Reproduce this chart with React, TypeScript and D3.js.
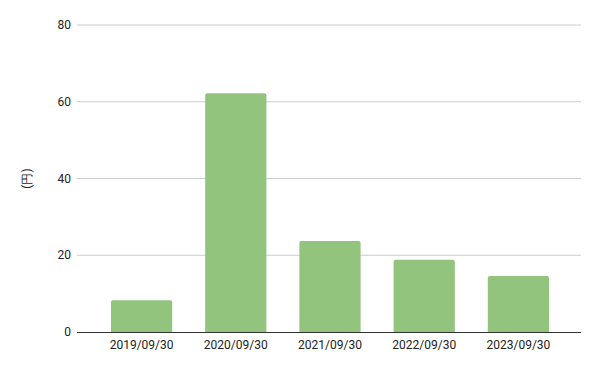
import React from "react";
import * as d3 from "d3";

const categories = ["2019/09/30", "2020/09/30", "2021/09/30", "2022/09/30", "2023/09/30"];
const values = [8.3, 62.2, 23.7, 18.8, 14.6];
const yTicks = [0, 20, 40, 60, 80];
const yLabel = "(円)";

const W = 600;
const H = 371;
const left = 77;
const right = 581;
const top = 25;
const bottom = 332;

export default function App() {
  const x = d3.scaleBand<string>().domain(categories).range([left + 1, right + 1]).paddingInner(0.35).paddingOuter(0.35);
  const y = d3.scaleLinear().domain([0, 80]).range([bottom, top]);
  const r = 2;
  const barPath = (x0: number, w: number, y0: number, y1: number) => {
    const p = d3.path();
    p.moveTo(x0, y1);
    p.lineTo(x0, y0 + r);
    p.quadraticCurveTo(x0, y0, x0 + r, y0);
    p.lineTo(x0 + w - r, y0);
    p.quadraticCurveTo(x0 + w, y0, x0 + w, y0 + r);
    p.lineTo(x0 + w, y1);
    p.closePath();
    return p.toString();
  };
  return (
    <svg width={W} height={H} style={{ position: "absolute", left: 0, top: 0 }} fontFamily="Roboto, Arial, sans-serif">
      <rect width={W} height={H} fill="#fff" />
      {yTicks.map((t) => (
        <g key={t}>
          {t !== 0 && <line x1={left} x2={right} y1={y(t)} y2={y(t)} stroke="#cccccc" strokeWidth={1} />}
          <text x={71} y={y(t)} dy="0.35em" textAnchor="end" fontSize={12} fill="#222">
            {t}
          </text>
        </g>
      ))}
      {categories.map((c, i) => (
        <path key={c} d={barPath(x(c)!, x.bandwidth(), y(values[i]), y(0))} fill="#93c47d" />
      ))}
      <line x1={left} x2={right} y1={y(0) + 0.5} y2={y(0) + 0.5} stroke="#333" strokeWidth={1} />
      {categories.map((c) => (
        <text key={c} x={x(c)! + x.bandwidth() / 2} y={349} textAnchor="middle" fontSize={12} fill="#222">
          {c}
        </text>
      ))}
      <text transform={`translate(31,${(top + bottom) / 2}) rotate(-90)`} textAnchor="middle" fontSize={12} fill="#222">
        {yLabel}
      </text>
    </svg>
  );
}
